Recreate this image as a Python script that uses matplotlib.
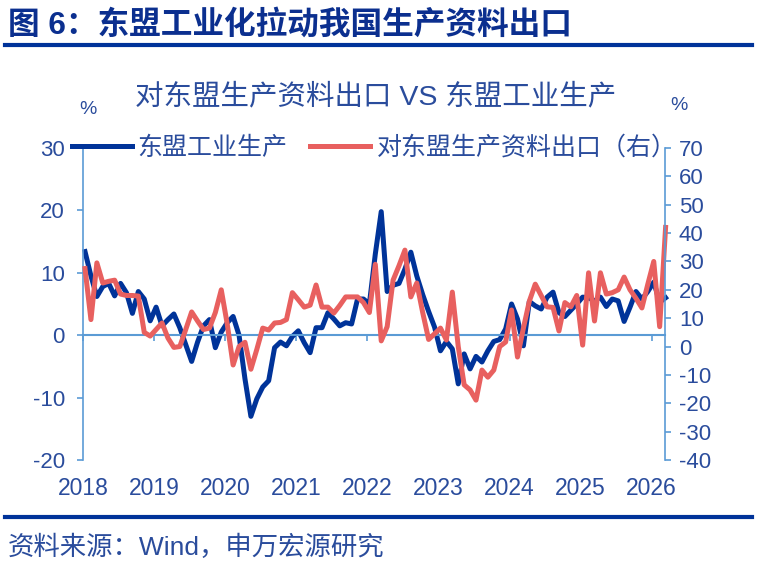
import numpy as np
import matplotlib
matplotlib.use('Agg')
import matplotlib.pyplot as plt
from matplotlib.lines import Line2D

plt.rcParams['font.family'] = ['Liberation Sans', 'Noto Sans CJK SC', 'DejaVu Sans']
plt.rcParams['axes.unicode_minus'] = False

# 东盟工业生产（左轴，%），2018年1月起按月
asean_ip = [13.4, 9.5, 6.2, 7.8, 8.3, 6.3, 8.3, 6.8, 3.5, 7.0, 5.8, 2.3,
            4.5, 1.5, 2.5, 3.4, 1.2, -1.5, -4.2, -1.1, 1.5, 2.5, -2.0, 0.5,
            2.0, 3.0, 0.0, -7.0, -13.0, -10.2, -8.3, -7.3, -2.0, -1.1, -1.7, -0.2,
            0.7, -1.2, -2.8, 1.2, 1.2, 3.6, 2.6, 1.5, 2.0, 1.8, 5.8, 5.8,
            5.0, 13.0, 19.8, 7.0, 8.0, 8.3, 10.6, 13.3, 9.5, 6.5, 3.8, 1.3,
            -2.5, -1.0, -2.2, -7.8, -3.0, -5.4, -3.4, -4.3, -2.5, -1.0, -0.7, 1.0,
            5.0, 2.6, -1.7, 5.4, 4.7, 4.2, 6.1, 6.9, 3.6, 3.0, 4.0, 5.0,
            6.1, 6.0, 5.5, 6.1, 4.6, 5.8, 5.5, 2.2, 4.5, 7.0, 5.8, 7.0,
            8.5, 5.3, 6.0]

# 对东盟生产资料出口（右轴，%）
export_cap = [27.5, 9.5, 29.5, 22.4, 23.0, 23.4, 18.5, 18.0, 18.0, 17.8, 5.0, 3.7,
              6.0, 8.3, 3.0, -0.3, 0.0, 6.0, 12.2, 9.0, 6.0, 6.5, 12.0, 20.0,
              8.0, -6.5, 0.0, 1.5, -8.0, -1.0, 6.5, 5.8, 8.3, 8.5, 9.5, 19.0,
              16.5, 13.9, 14.6, 21.7, 13.9, 13.9, 11.8, 14.5, 17.5, 17.5, 17.5, 15.5,
              12.0, 29.0, 2.0, 7.0, 23.4, 28.5, 34.0, 17.5, 22.4, 12.0, 2.5, 4.5,
              6.5, 2.3, 19.2, 0.0, -13.5, -15.3, -18.9, -8.3, -10.8, -8.3, 0.0, 1.6,
              12.9, -3.7, 6.5, 16.0, 22.0, 18.0, 14.0, 13.8, 5.5, 15.5, 14.0, 18.0,
              0.5, 26.0, 9.0, 26.0, 18.5, 19.0, 20.0, 24.5, 20.0, 17.0, 13.6, 22.0,
              30.0, 7.0, 42.0]

years = ['2018', '2019', '2020', '2021', '2022', '2023', '2024', '2025', '2026']

navy = '#0b2f8f'
text_blue = '#2a4c9c'
axis_blue = '#5b9bd5'
line_blue = '#003399'
line_red = '#e8605f'

fig = plt.figure(figsize=(7.62, 5.67), dpi=100)

# 标题和上下分隔线
fig.text(8 / 762, 1 - 25 / 567, '图 6：东盟工业化拉动我国生产资料出口', fontsize=22.8,
         fontweight='bold', color=navy, va='center', ha='left')
fig.add_artist(Line2D([5 / 762, 752 / 762], [1 - 45 / 567] * 2, color=line_blue, lw=3))
fig.add_artist(Line2D([5 / 762, 752 / 762], [1 - 517 / 567] * 2, color=line_blue, lw=3))
fig.text(8 / 762, 1 - 547 / 567, '资料来源：Wind，申万宏源研究', fontsize=19,
         color=text_blue, va='center', ha='left')

fig.text(376 / 762, 1 - 97 / 567, '对东盟生产资料出口 VS 东盟工业生产', fontsize=20.5,
         color=text_blue, va='center', ha='center')
fig.text(88 / 762, 1 - 110 / 567, '%', fontsize=14, color=text_blue, va='center', ha='center')
fig.text(679 / 762, 1 - 106 / 567, '%', fontsize=14, color=text_blue, va='center', ha='center')

ax = fig.add_axes([83 / 762, 1 - 460 / 567, 582 / 762, 312 / 567])
ax2 = ax.twinx()

x = np.arange(len(asean_ip))
l1, = ax.plot(x, asean_ip, color=line_blue, lw=3.6, label='东盟工业生产',
              solid_joinstyle='round', clip_on=False)
l2, = ax2.plot(x, export_cap, color=line_red, lw=3.6, label='对东盟生产资料出口（右）',
               solid_joinstyle='round', clip_on=False)

ax.set_xlim(-0.34, 97.9)
ax.set_ylim(-20, 30)
ax2.set_ylim(-40, 70)
ax.set_yticks(np.arange(-20, 31, 10))
ax2.set_yticks(np.arange(-40, 71, 10))

tick_pos = [12 * i - 0.34 for i in range(len(years))]
ax.set_xticks(tick_pos)
ax.set_xticklabels(years)

for a in (ax, ax2):
    for s in a.spines.values():
        s.set_color(axis_blue)
        s.set_linewidth(1.2)
    a.spines['top'].set_visible(False)

ax.spines['right'].set_visible(False)
ax2.spines['left'].set_visible(False)
ax2.spines['bottom'].set_visible(False)
ax.spines['bottom'].set_position(('data', 0))
ax.spines['bottom'].set_linewidth(1.5)

ax.tick_params(axis='y', colors=axis_blue, labelcolor=text_blue, labelsize=16,
               direction='out', length=4, width=1.2, pad=9)
ax2.tick_params(axis='y', colors=axis_blue, labelcolor=text_blue, labelsize=16,
                direction='out', length=4, width=1.2, pad=6)
ax.tick_params(axis='x', colors=axis_blue, labelcolor=text_blue, labelsize=16.5,
               direction='out', length=4, width=1.2, pad=98)

ax2.legend(handles=[l1, l2], loc='center', bbox_to_anchor=(0.5, 1.0), ncol=2,
           frameon=False, fontsize=18, labelcolor=text_blue, handlelength=2.4,
           handletextpad=0.25, columnspacing=0.9, borderaxespad=0)

fig.savefig('out.png', dpi=100)
